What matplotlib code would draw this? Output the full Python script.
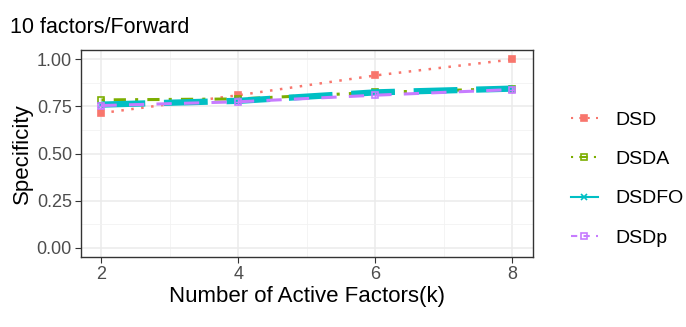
import numpy as np
import matplotlib
matplotlib.use("Agg")
from matplotlib import pyplot as plt
from matplotlib.lines import Line2D

plt.rcParams['font.family'] = ['Liberation Sans', 'DejaVu Sans']

# active factors and specificity per design
k = [2, 4, 6, 8]
dsd = [0.715, 0.81, 0.915, 1.0]
dsda = [0.785, 0.79, 0.825, 0.845]
dsdfo = [0.76, 0.78, 0.825, 0.845]
dsdp = [0.755, 0.775, 0.81, 0.84]

names = ['DSD', 'DSDA', 'DSDFO', 'DSDp']
series = [dsd, dsda, dsdfo, dsdp]
colors = ['#F8766D', '#7CAE00', '#00BFC4', '#C77CFF']
styles = [(0, (1, 3)), (0, (1, 3, 4, 3)), (0, (7, 3)), (0, (5, 4))]
key_styles = [(0, (1, 3)), (0, (1, 3, 4, 3)), '-', (0, (3, 3))]
widths = [1.8, 2.2, 4.5, 2.2]
markers = ['s', 's', 'x', 's']
mfill = [True, False, False, False]

fig = plt.figure(figsize=(6.86, 3.27), dpi=100)
ax = fig.add_axes([0.118, 0.214, 0.659, 0.633])

for y, c, ls, lw, m, f in zip(series, colors, styles, widths, markers, mfill):
    ax.plot(k, y, color=c, linestyle=ls, lw=lw)
    ax.plot(k, y, linestyle='none', marker=m, ms=5, mew=1.2,
            color=c, mfc=c if f else 'none')
# plus inside the DSDp squares
ax.plot(k, dsdp, linestyle='none', marker='+', ms=5, mew=1.0, color=colors[3])

ax.set_xlim(1.7, 8.3)
ax.set_ylim(-0.05, 1.05)
ax.set_xticks([2, 4, 6, 8])
ax.set_yticks([0, 0.25, 0.5, 0.75, 1.0])
ax.set_yticklabels(['0.00', '0.25', '0.50', '0.75', '1.00'])
ax.set_xticks([3, 5, 7], minor=True)
ax.set_yticks([0.125, 0.375, 0.625, 0.875], minor=True)
ax.grid(True, which='major', color='#EBEBEB', lw=1.1)
ax.grid(True, which='minor', color='#F2F2F2', lw=0.6)
ax.set_axisbelow(True)
ax.tick_params(which='major', length=4, color='#333333', labelsize=13,
               labelcolor='#4D4D4D', pad=2.5)
ax.tick_params(which='minor', length=0)
for s in ax.spines.values():
    s.set_color('#333333')
    s.set_linewidth(1.0)

ax.set_xlabel('Number of Active Factors(k)', fontsize=16, labelpad=2)
ax.set_ylabel('Specificity', fontsize=16, labelpad=3)
fig.text(0.015, 0.9, '10 factors/Forward', fontsize=15.5)

handles = []
for c, ls, m, f in zip(colors, key_styles, markers, mfill):
    handles.append(Line2D([], [], color=c, linestyle=ls, lw=1.5,
                          marker=m, ms=5, mew=1.2, mfc=c if f else 'none'))
leg = fig.legend(handles, names, loc='center left', bbox_to_anchor=(0.832, 0.453),
                 frameon=False, fontsize=14, handlelength=1.4,
                 labelspacing=1.12, handletextpad=0.9,
                 borderpad=0, borderaxespad=0)

fig.savefig('out.png', dpi=100)
